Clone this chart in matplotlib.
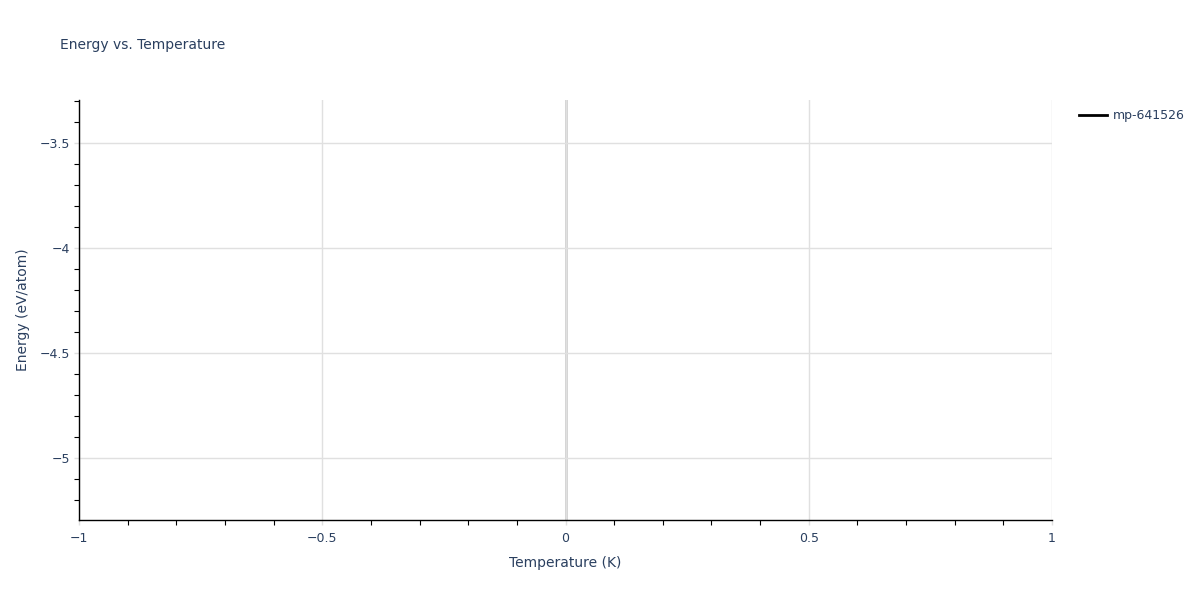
import numpy as np
import matplotlib
matplotlib.use("Agg")
import matplotlib.pyplot as plt
from matplotlib.ticker import MultipleLocator

# single calculated point, nothing visible as a line
temperature = [0.0]
energy = [-4.295]
series_name = "mp-641526"

x_range = (-1, 1)
y_range = (energy[0] - 1, energy[0] + 1)

text_color = "#2a3f5f"
grid_color = "#e0e0e0"

plt.rcParams['font.family'] = ['DejaVu Sans']

fig = plt.figure(figsize=(12, 6), dpi=100)
ax = fig.add_axes([79 / 1200, 1 - 520 / 600, (1052 - 79) / 1200, 420 / 600])

ax.plot(temperature, energy, color="black", lw=2, label=series_name)

ax.set_xlim(*x_range)
ax.set_ylim(*y_range)

ax.xaxis.set_major_locator(MultipleLocator(0.5))
ax.xaxis.set_minor_locator(MultipleLocator(0.1))
ax.yaxis.set_major_locator(MultipleLocator(0.5))
ax.yaxis.set_minor_locator(MultipleLocator(0.1))

ax.grid(True, which="major", color=grid_color, lw=1)
ax.axvline(0, color="#cfcfcf", lw=2, zorder=1)

for s in ["top", "right"]:
    ax.spines[s].set_visible(False)
for s in ["left", "bottom"]:
    ax.spines[s].set_color("black")
    ax.spines[s].set_linewidth(1)

ax.tick_params(which="major", colors=grid_color, labelcolor=text_color,
               length=3.6, width=1, labelsize=9)
ax.tick_params(which="minor", color="black", length=3.6, width=0.8)
ax.tick_params(axis="x", pad=5)
ax.tick_params(axis="y", pad=3)

def fmt(v):
    s = ("%g" % v)
    return s.replace("-", "\u2212")

xt = np.arange(-1, 1.01, 0.5)
ax.set_xticks(xt)
ax.set_xticklabels([fmt(v) for v in xt])
yt = [-5, -4.5, -4, -3.5]
ax.set_yticks(yt)
ax.set_yticklabels([fmt(v) for v in yt])

ax.set_xlabel("Temperature (K)", color=text_color, fontsize=10, labelpad=8)
ax.set_ylabel("Energy (eV/atom)", color=text_color, fontsize=10, labelpad=7)

fig.text(60 / 1200, 1 - 45 / 600, "Energy vs. Temperature", color=text_color,
         fontsize=10, va="center", ha="left")

leg = fig.legend(loc="upper left", bbox_to_anchor=(1068 / 1200, 1 - 98 / 600),
                 frameon=False, fontsize=9, handlelength=2.2, handletextpad=0.5)
for t in leg.get_texts():
    t.set_color(text_color)

fig.savefig("out.png", dpi=100)
